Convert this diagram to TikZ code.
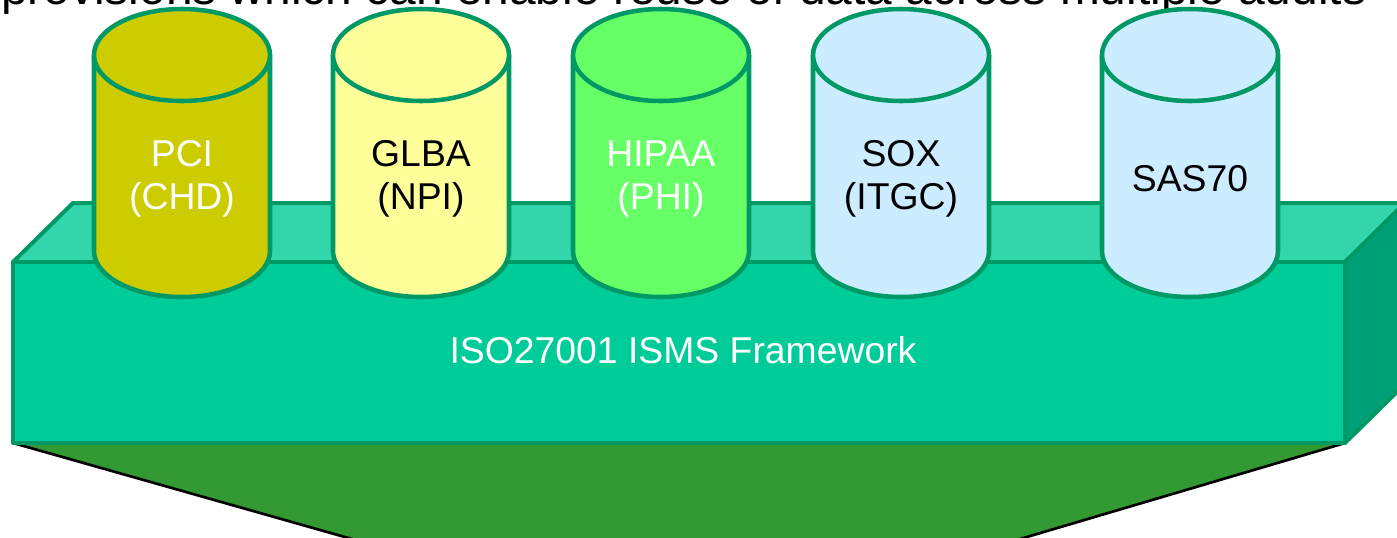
\documentclass[tikz,border=0pt]{standalone}
\usepackage{fontspec}
\setmainfont{Liberation Sans}
\definecolor{edge}{HTML}{009966}
\definecolor{frontface}{HTML}{00CC99}
\definecolor{topface}{HTML}{33D6AA}
\definecolor{sideface}{HTML}{00A077}
\definecolor{basegreen}{HTML}{339933}
\definecolor{pcicol}{HTML}{CCCC00}
\definecolor{glbacol}{HTML}{FFFF99}
\definecolor{hipaacol}{HTML}{66FF66}
\definecolor{soxcol}{HTML}{CCECFF}
\begin{document}
\begin{tikzpicture}[x=0.75pt,y=-0.75pt,
  boxface/.style={draw=edge,line width=3pt,line join=round},
  drum/.style={draw=edge,line width=3.4pt},
  lbl/.style={font=\fontsize{28}{32}\selectfont,align=center,inner sep=0pt}]
\useasboundingbox (0,0) rectangle (1397,537);
\clip (0,0) rectangle (1397,537);

% caption line running off the top edge
\node[anchor=base west,inner sep=0pt,font=\fontsize{35.9}{40}\selectfont] (caption) at (1,4)
  {provisions which can enable reuse of data across multiple audits};

% corners of the framework slab
\coordinate (fl) at (13,262);  \coordinate (fr) at (1345,262);
\coordinate (bl) at (13,443);  \coordinate (br) at (1345,443);
\coordinate (tl) at (73,203);  \coordinate (tr) at (1405,203);
\coordinate (rb) at (1405,384);
\coordinate (pl) at (426,560); \coordinate (pr) at (949,560);

% funnel under the slab
\filldraw[fill=basegreen,draw=black,line width=2pt,line join=round] (bl) -- (br) -- (pr) -- (pl) -- cycle;

% slab faces
\filldraw[boxface,fill=topface] (fl) -- (tl) -- (tr) -- (fr) -- cycle;
\filldraw[boxface,fill=sideface] (fr) -- (tr) -- (rb) -- (br) -- cycle;
\filldraw[boxface,fill=frontface] (fl) -- (fr) -- (br) -- (bl) -- cycle;
\node[lbl,text=white] (isms) at (683,350) {ISO27001 ISMS Framework};

% regulation drums standing on the slab
\foreach \cx/\col/\tcol/\txt/\nm in {
  182/pcicol/white/{PCI\\(CHD)}/pci,
  421/glbacol/black/{GLBA\\(NPI)}/glba,
  661/hipaacol/white/{HIPAA\\(PHI)}/hipaa,
  901/soxcol/black/{SOX\\(ITGC)}/sox,
  1190/soxcol/black/{SAS70}/sas}{
  \fill[\col] (\cx-88,55) -- (\cx-88,251)
    arc[start angle=180,end angle=0,x radius=88,y radius=46] -- (\cx+88,55) -- cycle;
  \draw[drum] (\cx-88,55) -- (\cx-88,251)
    arc[start angle=180,end angle=0,x radius=88,y radius=46] -- (\cx+88,55);
  \filldraw[drum,fill=\col] (\cx,55) ellipse[x radius=88,y radius=46];
  \node[lbl,text=\tcol] (\nm) at (\cx,179) {\txt};
}
\end{tikzpicture}
\end{document}
